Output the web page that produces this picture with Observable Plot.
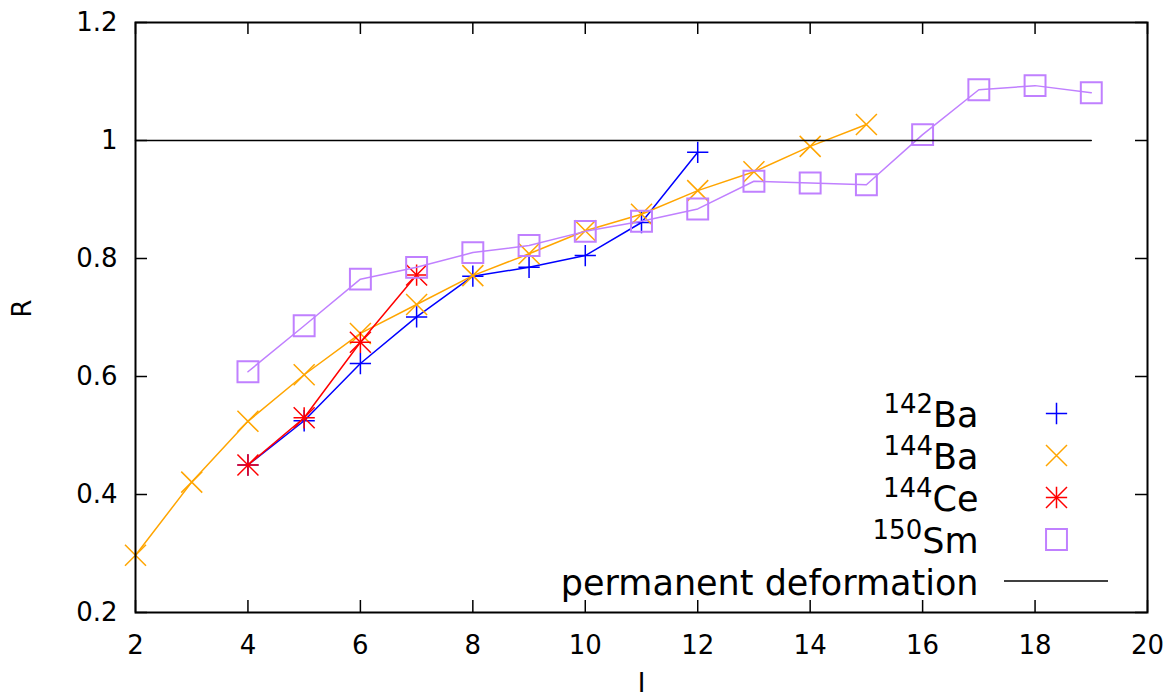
<!DOCTYPE html>
<html>
<head>
<meta charset="utf-8">
<script src="https://cdn.jsdelivr.net/npm/d3@7"></script>
<script src="https://cdn.jsdelivr.net/npm/@observablehq/plot@0.6"></script>
<style>
  html, body { margin: 0; padding: 0; background: #fff; overflow: hidden; }
  #chart svg { display: block; }
</style>
</head>
<body>
<div id="chart"></div>
<script>
// ---- data ----
const ba142Spin = [4, 5, 6, 7, 8, 9, 10, 11, 12];
const ba142R    = [0.450, 0.525, 0.622, 0.701, 0.770, 0.785, 0.805, 0.861, 0.980];

const ba144Spin = [2, 3, 4, 5, 6, 7, 8, 9, 10, 11, 12, 13, 14, 15];
const ba144R    = [0.297, 0.421, 0.524, 0.603, 0.673, 0.722, 0.771, 0.808, 0.847, 0.875, 0.915, 0.947, 0.990, 1.027];

const ce144Spin = [4, 5, 6, 7];
const ce144R    = [0.450, 0.530, 0.658, 0.772];

const sm150Spin = [4, 5, 6, 7, 8, 9, 10, 11, 12, 13, 14, 15, 16, 17, 18, 19];
const sm150R    = [0.608, 0.686, 0.765, 0.785, 0.810, 0.822, 0.846, 0.863, 0.884, 0.931, 0.928, 0.925, 1.010, 1.086, 1.093, 1.081];

const permSpin = [2, 19];
const permR    = [1, 1];

const xTicks = [2, 4, 6, 8, 10, 12, 14, 16, 18, 20];
const xTickLabels = ["2", "4", "6", "8", "10", "12", "14", "16", "18", "20"];
const yTicks = [0.2, 0.4, 0.6, 0.8, 1.0, 1.2];
const yTickLabels = ["0.2", "0.4", "0.6", "0.8", "1", "1.2"];

const seriesNames = ["142Ba", "144Ba", "144Ce", "150Sm", "permanent deformation"];
const seriesColors = ["#0000ff", "#ffa500", "#ff0000", "#c080ff", "#000000"];

// ---- layout ----
const W = 1173, H = 700;
const mL = 135, mR = 26, mT = 22, mB = 88;
const fw = W - mL - mR, fh = H - mT - mB;
const tickLen = 12;
const FONT = "DejaVu Sans, sans-serif";
const tickFont = 26, legFont = 35, supFont = 26;

const zip = (xs, ys) => xs.map((x, i) => ({I: x, R: ys[i]}));
const ba142 = zip(ba142Spin, ba142R);
const ba144 = zip(ba144Spin, ba144R);
const ce144 = zip(ce144Spin, ce144R);
const sm150 = zip(sm150Spin, sm150R);
const perm  = zip(permSpin, permR);

const xLab = new Map(xTicks.map((t, i) => [t, xTickLabels[i]]));
const yLab = new Map(yTicks.map((t, i) => [t, yTickLabels[i]]));

const rPlus = 6.9, rTimes = 9.6, rSquare = 11.8;
const lw = 1.5;

const marks = [];

// axes ticks (inward, mirrored)
marks.push(Plot.tickY(yTicks, {y: d => d, stroke: "#000", strokeWidth: 1.5, insetRight: fw - tickLen}));
marks.push(Plot.tickY(yTicks, {y: d => d, stroke: "#000", strokeWidth: 1.5, insetLeft: fw - tickLen}));
marks.push(Plot.tickX(xTicks, {x: d => d, stroke: "#000", strokeWidth: 1.5, insetTop: fh - tickLen}));
marks.push(Plot.tickX(xTicks, {x: d => d, stroke: "#000", strokeWidth: 1.5, insetBottom: fh - tickLen}));

// tick labels
marks.push(Plot.axisX(xTicks, {anchor: "bottom", tickSize: 0, tickPadding: 23, fontSize: tickFont, tickFormat: d => xLab.get(d), label: null}));
marks.push(Plot.axisY(yTicks, {anchor: "left", tickSize: 0, tickPadding: 18, fontSize: tickFont, tickFormat: d => yLab.get(d), label: null}));

// axis titles
marks.push(Plot.text(["R"], {frameAnchor: "left", dx: -113, rotate: -90, fontSize: tickFont, fill: "#000"}));
marks.push(Plot.text(["I"], {frameAnchor: "bottom", lineAnchor: "middle", dy: 71, fontSize: tickFont, fill: "#000"}));

// series
marks.push(Plot.line(ba142, {x: "I", y: "R", stroke: seriesColors[0], strokeWidth: lw}));
marks.push(Plot.dot(ba142, {x: "I", y: "R", symbol: "plus", stroke: seriesColors[0], strokeWidth: lw, r: rPlus}));

marks.push(Plot.line(ba144, {x: "I", y: "R", stroke: seriesColors[1], strokeWidth: lw}));
marks.push(Plot.dot(ba144, {x: "I", y: "R", symbol: "times", stroke: seriesColors[1], strokeWidth: lw, r: rTimes}));

marks.push(Plot.line(ce144, {x: "I", y: "R", stroke: seriesColors[2], strokeWidth: lw}));
marks.push(Plot.dot(ce144, {x: "I", y: "R", symbol: "plus", stroke: seriesColors[2], strokeWidth: lw, r: rPlus}));
marks.push(Plot.dot(ce144, {x: "I", y: "R", symbol: "times", stroke: seriesColors[2], strokeWidth: lw, r: rTimes}));

marks.push(Plot.line(sm150, {x: "I", y: "R", stroke: seriesColors[3], strokeWidth: lw}));
marks.push(Plot.dot(sm150, {x: "I", y: "R", symbol: "square", stroke: seriesColors[3], fill: "none", strokeWidth: 2, r: rSquare}));

marks.push(Plot.line(perm, {x: "I", y: "R", stroke: seriesColors[4], strokeWidth: lw}));

// legend (inside the frame, bottom right)
const legX = 921, legTextX = 843, legY0 = 391, legStep = 42;
const legSymbols = [["plus"], ["times"], ["plus", "times"], ["square"]];
seriesNames.slice(0, 4).forEach((name, i) => {
  const m = name.match(/^(\d+)(.*)$/);
  marks.push(Plot.text([`^${m[1]}|${m[2]}`], {frameAnchor: "top-left", lineAnchor: "middle", dx: legTextX, dy: legY0 + i * legStep + 2, textAnchor: "end", fontSize: legFont, fill: "#000"}));
  legSymbols[i].forEach(sym => {
    const r = sym === "plus" ? rPlus : sym === "times" ? rTimes : rSquare;
    marks.push(Plot.dot([0], {frameAnchor: "top-left", dx: legX, dy: legY0 + i * legStep, symbol: sym, stroke: seriesColors[i], fill: "none", strokeWidth: sym === "square" ? 2 : lw, r}));
  });
});
marks.push(Plot.text([seriesNames[4]], {frameAnchor: "top-left", lineAnchor: "middle", dx: legTextX, dy: legY0 + 4 * legStep + 2, textAnchor: "end", fontSize: legFont, fill: "#000"}));
marks.push((index, scales, values, dims) => {
  const y = dims.marginTop + legY0 + 4 * legStep;
  const line = d3.create("svg:line")
    .attr("x1", dims.marginLeft + 869).attr("x2", dims.marginLeft + 973)
    .attr("y1", y).attr("y2", y)
    .attr("stroke", seriesColors[4]).attr("stroke-width", lw);
  return line.node();
});

marks.push(Plot.frame({stroke: "#000", strokeWidth: 2}));

const chart = Plot.plot({
  width: W, height: H,
  marginLeft: mL, marginRight: mR, marginTop: mT, marginBottom: mB,
  x: {domain: [2, 20], axis: null},
  y: {domain: [0.2, 1.2], axis: null},
  style: {fontFamily: FONT, background: "#fff", color: "#000", overflow: "hidden"},
  marks
});

// superscript mass numbers in the legend
d3.select(chart).selectAll("text").each(function () {
  const t = this.textContent;
  const m = t.match(/^\^(\d+)\|(.*)$/);
  if (!m) return;
  const sel = d3.select(this);
  sel.text(null);
  sel.append("tspan").attr("font-size", supFont).attr("dy", -14).text(m[1]);
  sel.append("tspan").attr("font-size", legFont).attr("dy", 14).text(m[2]);
});

document.getElementById("chart").appendChild(chart);
</script>
</body>
</html>
